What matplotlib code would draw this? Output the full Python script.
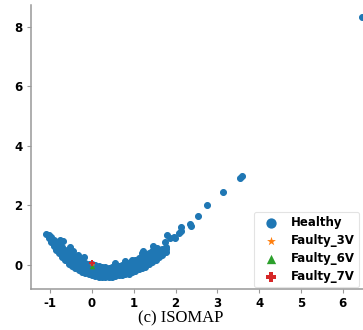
import matplotlib
matplotlib.use("Agg")
import matplotlib.pyplot as plt

plt.rcParams['axes.unicode_minus'] = False
plt.rcParams['font.family'] = ['DejaVu Sans']

# Dense band of Healthy points: column x positions and the y values in each column
band_cols = [-1.1, -1.04, -0.98, -0.92, -0.86, -0.8, -0.72, -0.64, -0.56, -0.48,
             -0.4, -0.32, -0.24, -0.16, -0.08, 0.0, 0.08, 0.16, 0.24, 0.32, 0.4,
             0.48, 0.56, 0.64, 0.72, 0.8, 0.88, 0.96, 1.04, 1.12, 1.2, 1.28, 1.36,
             1.44, 1.52, 1.6, 1.68, 1.76]
band_ys = [
    [1.05],
    [0.92, 1.01],
    [0.77, 0.85, 0.93],
    [0.62, 0.72, 0.85],
    [0.5, 0.6, 0.7, 0.78],
    [0.41, 0.51, 0.61, 0.7],
    [0.28, 0.38, 0.48, 0.59],
    [0.15, 0.26, 0.38, 0.49],
    [0.03, 0.15, 0.27, 0.39],
    [-0.04, 0.08, 0.2, 0.33],
    [-0.11, 0.01, 0.13, 0.26],
    [-0.18, -0.06, 0.07, 0.19],
    [-0.24, -0.12, 0.0, 0.13],
    [-0.28, -0.16, -0.04, 0.07],
    [-0.31, -0.19, -0.07, 0.04],
    [-0.35, -0.23, -0.11, 0.02],
    [-0.38, -0.26, -0.13, -0.01],
    [-0.39, -0.27, -0.15, -0.03],
    [-0.39, -0.28, -0.17, -0.06],
    [-0.39, -0.28, -0.18, -0.08],
    [-0.4, -0.3, -0.2, -0.1],
    [-0.4, -0.29, -0.18, -0.07],
    [-0.38, -0.27, -0.16, -0.05],
    [-0.35, -0.24, -0.13, -0.03],
    [-0.33, -0.22, -0.12, -0.01],
    [-0.31, -0.2, -0.09, 0.02],
    [-0.29, -0.17, -0.05, 0.07],
    [-0.24, -0.12, 0.0, 0.13],
    [-0.2, -0.07, 0.06, 0.18],
    [-0.15, -0.02, 0.11, 0.24],
    [-0.11, 0.02, 0.16, 0.3],
    [-0.06, 0.08, 0.22, 0.36],
    [0.02, 0.15, 0.28, 0.41],
    [0.1, 0.22, 0.35, 0.47],
    [0.17, 0.29, 0.41, 0.52],
    [0.25, 0.37, 0.48],
    [0.33, 0.44, 0.54],
    [0.42, 0.52, 0.6],
]

# Sparse Healthy points (bumps and the tail)
sparse_x = [-0.77, -0.69, -0.53, -0.45, -0.33, -0.2, 0.55, 0.79, 0.95, 1.19, 1.23,
            1.47, 1.55, 1.75, 1.79, 1.87, 1.95, 1.99, 2.07, 2.12, 2.14, 2.34, 2.38,
            2.54, 2.74, 3.13, 3.54, 3.6, 6.45]
sparse_y = [0.84, 0.8, 0.6, 0.46, 0.34, 0.26, 0.08, 0.14, 0.18, 0.41, 0.46,
            0.62, 0.56, 0.78, 1.0, 0.9, 0.95, 0.92, 1.06, 1.14, 1.29, 1.37, 1.32,
            1.66, 2.02, 2.44, 2.91, 3.0, 8.34]

faulty3_x, faulty3_y = [0.0], [0.0]
faulty6_x, faulty6_y = [-0.01], [-0.05]
faulty7_x, faulty7_y = [-0.01], [0.06]

xticks = [-1, 0, 1, 2, 3, 4, 5, 6]
yticks = [0, 2, 4, 6, 8]

healthy_x = []
healthy_y = []
for cx, ys in zip(band_cols, band_ys):
    for yv in ys:
        healthy_x.append(cx)
        healthy_y.append(yv)
healthy_x += sparse_x
healthy_y += sparse_y

fig = plt.figure(figsize=(3.63, 3.30), dpi=100)
ax = fig.add_axes([31 / 363, 41 / 330, 346.5 / 363, 284 / 330])

ax.scatter(healthy_x, healthy_y, s=18, color='#1f77b4', edgecolors='#1f77b4',
           linewidths=0.8, label='Healthy', zorder=2)
ax.scatter(faulty3_x, faulty3_y, s=20, marker='*', color='#ff7f0e', linewidths=0, label='Faulty_3V', zorder=3)
ax.scatter(faulty6_x, faulty6_y, s=16, marker='^', color='#2ca02c', linewidths=0, label='Faulty_6V', zorder=4)
ax.scatter(faulty7_x, faulty7_y, s=16, marker='P', color='#d62728', linewidths=0, label='Faulty_7V', zorder=5)

ax.set_xlim(-1.459, 6.83)
ax.set_ylim(-0.81, 8.74)
ax.set_xticks(xticks)
ax.set_yticks(yticks)
ax.set_xticklabels([str(t) for t in xticks], fontweight='bold', fontsize=8.5)
ax.set_yticklabels([str(t) for t in yticks], fontweight='bold', fontsize=8.5)
ax.tick_params(axis='both', length=3, width=0.8, color='#999999', pad=3)

for side in ['top', 'right']:
    ax.spines[side].set_visible(False)
for side in ['left', 'bottom']:
    ax.spines[side].set_color('#999999')
    ax.spines[side].set_linewidth(1.1)

leg = ax.legend(loc='lower left', bbox_to_anchor=(254 / 363, 43 / 330),
                bbox_transform=fig.transFigure, borderaxespad=0,
                prop={'weight': 'bold', 'size': 8.5}, labelspacing=0.42,
                handletextpad=0.6, handlelength=2.2, borderpad=0.35,
                scatterpoints=1, frameon=True, fancybox=True)
leg.get_frame().set_edgecolor('#dddddd')
leg.get_frame().set_linewidth(0.8)
sizes = [55, 45, 45, 45]
for h, s in zip(leg.legend_handles, sizes):
    h.set_sizes([s])
leg.legend_handles[0].set_linewidth(0)

fig.text(181 / 363, 12 / 330, '(c) ISOMAP', ha='center', va='center',
         family=['Liberation Serif', 'DejaVu Serif'], fontsize=12)

fig.savefig('out.png', dpi=100)
